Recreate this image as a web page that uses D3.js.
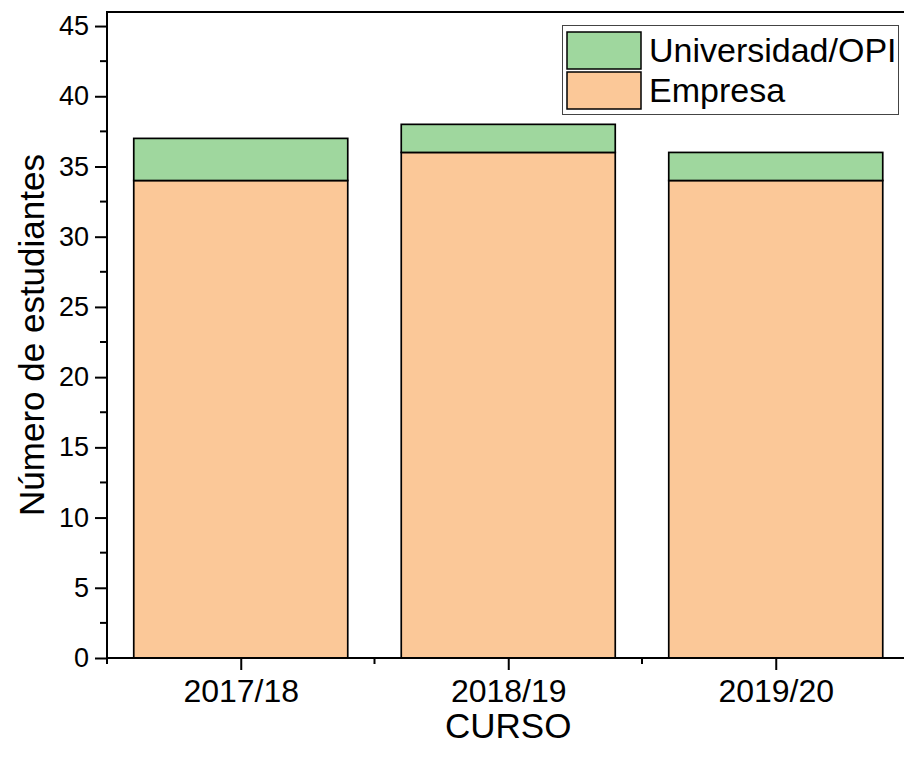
<!DOCTYPE html>
<html>
<head>
<meta charset="utf-8">
<script src="https://cdn.jsdelivr.net/npm/d3@7/dist/d3.min.js"></script>
<style>
  html, body { margin: 0; padding: 0; background: #ffffff; }
  svg { display: block; font-family: Arial, "Liberation Sans", sans-serif; }
</style>
</head>
<body>
<svg id="chart" width="904" height="763"></svg>
<script>
const categories = ["2017/18", "2018/19", "2019/20"];
const empresa = [34, 36, 34];
const universidad = [3, 2, 2];
const seriesNames = ["Universidad/OPI", "Empresa"];
const yTicks = [0, 5, 10, 15, 20, 25, 30, 35, 40, 45];

const colors = { empresa: "#fbc898", universidad: "#9fd79e" };

const svg = d3.select("#chart");
const W = 904, H = 763;
const m = { left: 107, top: 12, bottom: 658 };

const x = d3.scaleLinear().domain([0.5, 3.5]).range([m.left, 909.5]);
const y = d3.scaleLinear().domain([0, 46]).range([m.bottom, m.top]);
const step = x(2) - x(1);
const bw = step * 0.8;

const rows = categories.map((c, i) => ({ c, i, e: empresa[i], u: universidad[i] }));

const g = svg.append("g");
g.selectAll("rect.emp").data(rows).join("rect")
  .attr("class", "emp")
  .attr("x", d => x(d.i + 1) - bw / 2)
  .attr("width", bw)
  .attr("y", d => y(d.e))
  .attr("height", d => y(0) - y(d.e))
  .attr("fill", colors.empresa)
  .attr("stroke", "#000").attr("stroke-width", 1.7);
g.selectAll("rect.uni").data(rows).join("rect")
  .attr("class", "uni")
  .attr("x", d => x(d.i + 1) - bw / 2)
  .attr("width", bw)
  .attr("y", d => y(d.e + d.u))
  .attr("height", d => y(d.e) - y(d.e + d.u))
  .attr("fill", colors.universidad)
  .attr("stroke", "#000").attr("stroke-width", 1.7);

svg.append("line")
  .attr("x1", m.left).attr("x2", W).attr("y1", m.top).attr("y2", m.top)
  .attr("stroke", "#000").attr("stroke-width", 2);

// Y axis
const yAxis = d3.axisLeft(y).tickValues(yTicks).tickSize(12).tickPadding(6).tickFormat(d3.format("d"));
const ya = svg.append("g").attr("transform", `translate(${m.left},0)`).call(yAxis);
ya.select(".domain").remove();
ya.selectAll(".tick line").attr("stroke", "#000").attr("stroke-width", 2);
ya.selectAll(".tick text").attr("font-size", 27).attr("fill", "#000")
  .attr("font-family", "Arial, 'Liberation Sans', sans-serif");
const yMinor = d3.range(2.5, 46, 5);
svg.append("g").selectAll("line").data(yMinor).join("line")
  .attr("x1", m.left - 7).attr("x2", m.left)
  .attr("y1", d => y(d)).attr("y2", d => y(d))
  .attr("stroke", "#000").attr("stroke-width", 2);
svg.append("line").attr("x1", m.left).attr("x2", m.left)
  .attr("y1", m.top - 1).attr("y2", m.bottom + 1)
  .attr("stroke", "#000").attr("stroke-width", 2);

// X axis
const xAxis = d3.axisBottom(x).tickValues([1, 2, 3]).tickSize(12).tickPadding(9)
  .tickFormat(d => categories[d - 1]);
const xa = svg.append("g").attr("transform", `translate(0,${m.bottom})`).call(xAxis);
xa.select(".domain").remove();
xa.selectAll(".tick line").attr("stroke", "#000").attr("stroke-width", 2);
xa.selectAll(".tick text").attr("font-size", 32).attr("fill", "#000")
  .attr("font-family", "Arial, 'Liberation Sans', sans-serif");
const xMinor = [0.5, 1.5, 2.5, 3.5];
svg.append("g").selectAll("line").data(xMinor).join("line")
  .attr("x1", d => x(d)).attr("x2", d => x(d))
  .attr("y1", m.bottom).attr("y2", m.bottom + 6)
  .attr("stroke", "#000").attr("stroke-width", 2);
svg.append("line").attr("x1", m.left - 1).attr("x2", W)
  .attr("y1", m.bottom).attr("y2", m.bottom)
  .attr("stroke", "#000").attr("stroke-width", 2);

// axis titles
svg.append("text")
  .attr("transform", `translate(44,${(m.top + m.bottom) / 2}) rotate(-90)`)
  .attr("text-anchor", "middle").attr("font-size", 35).attr("fill", "#000")
  .text("Número de estudiantes");
svg.append("text")
  .attr("x", x(2)).attr("y", 738)
  .attr("text-anchor", "middle").attr("font-size", 35).attr("fill", "#000")
  .text("CURSO");

// legend
const lg = svg.append("g");
lg.append("rect").attr("x", 562.5).attr("y", 25.5).attr("width", 336).attr("height", 89)
  .attr("fill", "#fff").attr("stroke", "#444").attr("stroke-width", 1);
const legItems = [
  { name: seriesNames[0], color: colors.universidad },
  { name: seriesNames[1], color: colors.empresa }
];
legItems.forEach((it, k) => {
  const yy = 32 + k * 40;
  lg.append("rect").attr("x", 567).attr("y", yy).attr("width", 74).attr("height", 37)
    .attr("fill", it.color).attr("stroke", "#000").attr("stroke-width", 1.5);
  lg.append("text").attr("x", 649).attr("y", yy + 30)
    .attr("font-size", 34).attr("fill", "#000").text(it.name);
});
</script>
</body>
</html>
